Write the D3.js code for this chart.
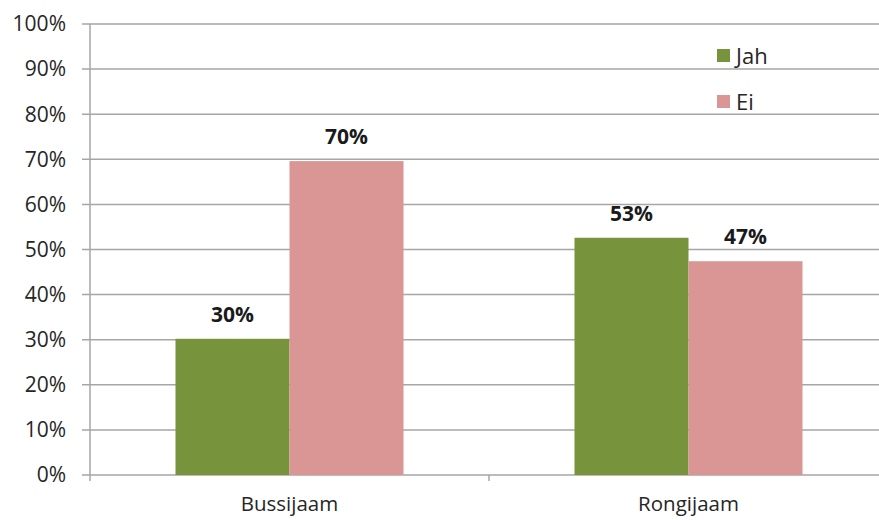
<!DOCTYPE html>
<html><head><meta charset="utf-8">
<script src="https://cdn.jsdelivr.net/npm/d3@7"></script>
<style>body{margin:0;background:#fff}svg{display:block}</style>
</head><body><svg id="c" width="879" height="520"></svg>
<script>
const categories = ["Bussijaam", "Rongijaam"];
const seriesNames = ["Jah", "Ei"];
const jahValues = [30.2, 52.6];
const eiValues = [69.6, 47.4];
const yTicks = [0,10,20,30,40,50,60,70,80,90,100];
const colors = ["#77933C", "#D99694"];

const svg = d3.select("#c");
const m = {l:90, r:888, t:24, b:475};
const font = "'Open Sans', sans-serif";
const x = d3.scaleBand().domain(categories).range([m.l, m.r]).paddingInner(0).paddingOuter(0);
const xs = d3.scaleBand().domain(seriesNames).range([0, x.bandwidth()]).paddingInner(0).paddingOuter(0.75);
const y = d3.scaleLinear().domain([0,100]).range([m.b, m.t]);

// gridlines
svg.append("g").selectAll("line").data(yTicks).join("line")
  .attr("x1", m.l-8).attr("x2", m.r).attr("y1", d=>y(d)).attr("y2", d=>y(d))
  .attr("stroke", "#A6A6A6").attr("stroke-width", 1.5);
// y axis line
svg.append("line").attr("x1", m.l).attr("x2", m.l).attr("y1", m.t).attr("y2", m.b+6)
  .attr("stroke", "#A6A6A6").attr("stroke-width", 1.5);
// x category ticks
svg.append("g").selectAll("line").data(categories.slice(1)).join("line")
  .attr("x1", d=>x(d)).attr("x2", d=>x(d)).attr("y1", m.b).attr("y2", m.b+6)
  .attr("stroke", "#A6A6A6").attr("stroke-width", 1.5);

// y labels
svg.append("g").selectAll("text").data(yTicks).join("text")
  .attr("x", 66).attr("y", d=>y(d)).attr("dy", "0.35em").attr("text-anchor","end")
  .attr("font-family", font).attr("font-size", 21).attr("fill","#262626")
  .text(d=>d+"%");

// bars
const data = [];
categories.forEach((c,i)=>{
  data.push({c, s:"Jah", v:jahValues[i], col:colors[0]});
  data.push({c, s:"Ei", v:eiValues[i], col:colors[1]});
});
svg.append("g").selectAll("rect").data(data).join("rect")
  .attr("x", d=>x(d.c)+xs(d.s)).attr("width", xs.bandwidth())
  .attr("y", d=>y(d.v)).attr("height", d=>y(0)-y(d.v)).attr("fill", d=>d.col);

// data labels
svg.append("g").selectAll("text").data(data).join("text")
  .attr("x", d=>x(d.c)+xs(d.s)+xs.bandwidth()/2).attr("y", d=>y(d.v)-17)
  .attr("text-anchor","middle").attr("font-family", font).attr("font-weight","bold")
  .attr("font-size", 21).attr("fill","#1a1a1a")
  .text(d=>Math.round(d.v)+"%");

// category labels
svg.append("g").selectAll("text").data(categories).join("text")
  .attr("x", d=>x(d)+x.bandwidth()/2).attr("y", 511).attr("text-anchor","middle")
  .attr("font-family", font).attr("font-size", 20.5).attr("fill","#262626")
  .text(d=>d);

// legend
const lg = svg.append("g").selectAll("g").data(seriesNames).join("g")
  .attr("transform", (d,i)=>`translate(717,${49+i*46})`);
lg.append("rect").attr("width", 13).attr("height", 13).attr("fill", (d,i)=>colors[i]);
lg.append("text").attr("x", 19).attr("y", 7).attr("dy","0.35em")
  .attr("font-family", font).attr("font-size", 22).attr("fill","#262626").text(d=>d);
</script></body></html>
